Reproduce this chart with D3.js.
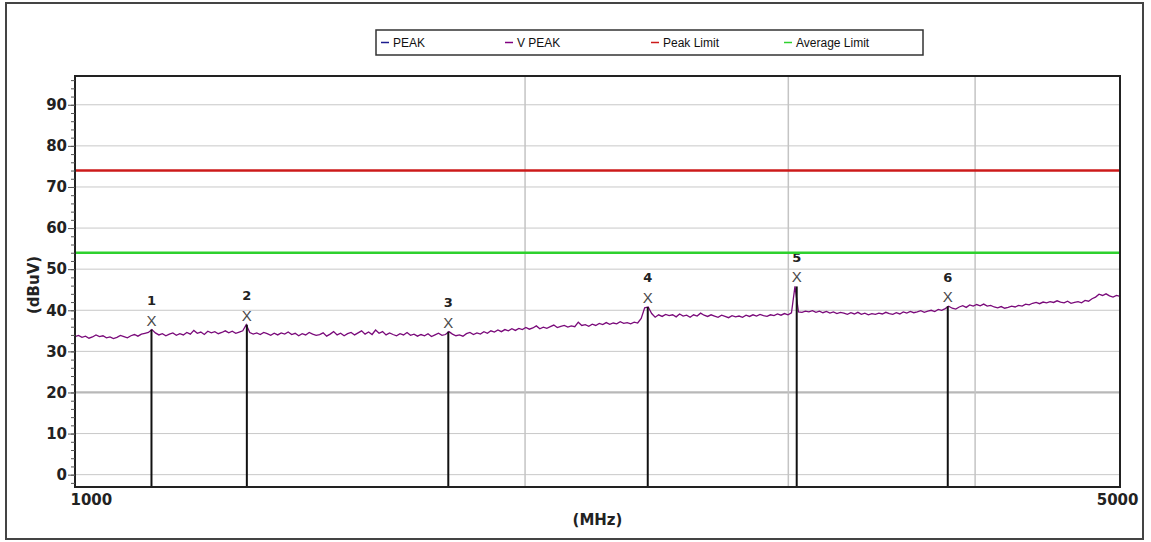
<!DOCTYPE html>
<html><head><meta charset="utf-8">
<script src="https://cdn.jsdelivr.net/npm/d3@7"></script>
<style>body{margin:0;background:#fff;} svg{display:block;}</style>
</head><body><svg id="chart" width="1151" height="542"></svg>
<script>
// ---------- data ----------
const legendNames = ["PEAK", "V PEAK", "Peak Limit", "Average Limit"];
const legendColors = ["#1c1c8f", "#800080", "#cc1a1a", "#2ed12e"];
const sweepStartMHz = 1000, sweepStopMHz = 5000;
// V PEAK trace (dBuV), sweep points from 1000 to 5000 MHz
const vPeakLevels = [
33.6,33.9,33.4,33.7,33.2,33.5,34.0,33.6,33.8,33.3,
33.5,33.1,33.4,33.9,33.6,33.3,33.8,34.1,33.7,34.2,
34.4,34.6,35.3,34.5,34.0,34.3,33.8,34.2,34.5,33.9,
34.3,34.0,34.6,34.2,35.1,34.4,34.7,34.1,34.9,34.5,
34.8,34.3,34.6,35.0,34.5,34.9,34.4,34.7,35.0,36.5,
34.6,34.2,34.5,34.1,34.6,34.3,33.9,34.4,34.0,34.5,
34.2,34.7,34.1,34.4,33.8,34.3,34.0,34.6,34.2,33.9,
34.1,34.5,33.7,34.2,34.8,34.0,34.4,33.8,34.3,34.6,
34.0,34.5,35.0,34.2,34.7,34.1,35.2,34.4,34.8,34.0,
34.5,34.1,33.8,34.3,34.0,34.6,33.9,34.2,33.7,34.1,
33.8,34.3,33.6,34.0,34.4,33.9,34.1,34.8,34.2,33.8,
34.0,33.7,34.3,34.6,34.1,34.5,34.2,34.8,34.4,35.0,
34.7,35.2,34.8,35.3,35.0,35.5,35.1,35.6,35.3,35.8,
35.4,35.7,36.2,35.5,35.9,35.6,36.0,36.4,35.8,36.1,
36.3,35.9,36.2,36.0,37.1,36.3,36.5,36.1,36.6,36.3,
36.8,36.5,37.0,36.6,36.9,36.7,37.2,36.8,37.0,36.7,
37.1,36.9,38.0,40.6,40.8,39.2,38.3,38.9,38.5,39.0,
38.7,38.9,38.4,39.1,38.6,38.8,38.3,38.9,38.6,39.3,
38.8,38.5,38.9,38.6,38.3,38.8,38.5,38.2,38.7,38.4,
38.6,38.3,38.8,38.5,38.9,38.6,39.0,38.7,38.5,38.9,
38.7,39.1,38.8,39.2,38.9,39.4,45.8,39.6,39.5,39.8,
39.6,39.9,39.5,39.8,39.4,39.7,39.3,39.6,39.2,39.5,
39.3,39.0,39.4,39.1,39.5,39.0,39.3,38.9,39.2,39.0,
39.3,39.1,39.5,39.2,39.0,39.4,39.1,39.6,39.3,39.7,
39.4,39.6,39.9,39.5,39.8,40.0,39.7,40.2,40.0,40.4,
41.0,40.5,40.3,40.8,41.1,40.7,41.3,41.0,41.4,41.1,
41.5,41.0,41.2,40.8,40.6,40.9,40.5,40.7,41.0,40.8,
41.2,41.0,41.5,41.3,41.7,41.9,41.6,42.0,41.8,42.1,
41.9,42.3,42.0,41.8,42.2,41.7,41.9,42.1,41.8,42.4,
42.2,42.8,43.2,43.9,43.6,44.0,43.5,43.2,43.6,43.4
];
const peakLimit = 74;
const averageLimit = 54;
const markerIds = [1, 2, 3, 4, 5, 6];
const markerFreqs = [1125, 1303, 1777, 2416, 3039, 3835];
const markerLevels = [35.3, 36.5, 34.8, 40.8, 45.8, 41.0];
const yMajorTicks = [0, 10, 20, 30, 40, 50, 60, 70, 80, 90];
const yMinorTicks = d3.range(-2, 97, 2);
const xTickLabels = [1000, 5000];
const xGridFreqs = [2000, 3000, 4000];
const yDomain = [-3, 97];

// ---------- layout ----------
const svg = d3.select("#chart");
const L = 75, R = 1120, T = 76, B = 487;
const x = d3.scaleLog().domain([sweepStartMHz, sweepStopMHz]).range([L, R]);
const y = d3.scaleLinear().domain(yDomain).range([B, T]);
const boldFont = "'DejaVu Sans', Verdana, sans-serif";

// outer frame
svg.append("rect").attr("x", 6).attr("y", 3).attr("width", 1137).attr("height", 536)
  .attr("fill", "#fff").attr("stroke", "#444").attr("stroke-width", 2);

// grid
const g = svg.append("g");
g.selectAll(".hg").data(yMajorTicks).join("line")
  .attr("x1", L).attr("x2", R).attr("y1", d => y(d)).attr("y2", d => y(d))
  .attr("stroke", d => d === 20 ? "#b8b8b8" : "#c8c8c8")
  .attr("stroke-width", d => d === 20 ? 2.2 : 1);
g.selectAll(".vg").data(xGridFreqs).join("line")
  .attr("x1", d => x(d)).attr("x2", d => x(d)).attr("y1", T).attr("y2", B)
  .attr("stroke", "#c4c4c4").attr("stroke-width", 1.5);

// trace
const n = vPeakLevels.length;
const tracePts = vPeakLevels.map((v, i) => [sweepStartMHz * Math.pow(sweepStopMHz / sweepStartMHz, i / (n - 1)), v]);
svg.append("path").datum(tracePts)
  .attr("d", d3.line().x(d => x(d[0])).y(d => y(d[1])))
  .attr("fill", "none").attr("stroke", "#7a0a7a").attr("stroke-width", 1.3);

// markers
const markers = markerIds.map((id, i) => ({id, f: markerFreqs[i], v: markerLevels[i]}));
const mg = svg.append("g");
mg.selectAll("line").data(markers).join("line")
  .attr("x1", d => x(d.f)).attr("x2", d => x(d.f))
  .attr("y1", y(yDomain[0])).attr("y2", d => y(d.v))
  .attr("stroke", "#111").attr("stroke-width", 2);
mg.selectAll(".mx").data(markers).join("text")
  .attr("x", d => x(d.f)).attr("y", d => y(d.v) - 9.5)
  .attr("text-anchor", "middle").attr("dominant-baseline", "central")
  .attr("font-family", "'Liberation Sans', Arial, sans-serif").attr("font-size", 15)
  .attr("fill", "#4a4a4a").text("X");
mg.selectAll(".ml").data(markers).join("text")
  .attr("x", d => x(d.f)).attr("y", d => y(d.v) - 29)
  .attr("text-anchor", "middle").attr("dominant-baseline", "central")
  .attr("font-family", boldFont).attr("font-weight", "bold").attr("font-size", 13)
  .attr("fill", "#222").text(d => d.id);

// limit lines
[[peakLimit, legendColors[2]], [averageLimit, legendColors[3]]].forEach(([v, c]) => {
  svg.append("line").attr("x1", L).attr("x2", R).attr("y1", y(v)).attr("y2", y(v))
    .attr("stroke", c).attr("stroke-width", 2.6);
});

// plot border
svg.append("rect").attr("x", L).attr("y", T).attr("width", R - L).attr("height", B - T)
  .attr("fill", "none").attr("stroke", "#222").attr("stroke-width", 2);

// y axis
const yMinor = svg.append("g").attr("transform", `translate(${L},0)`)
  .call(d3.axisLeft(y).tickValues(yMinorTicks).tickSize(4).tickFormat(""));
const yAx = svg.append("g").attr("transform", `translate(${L},0)`)
  .call(d3.axisLeft(y).tickValues(yMajorTicks).tickSize(7).tickPadding(1));
[yMinor, yAx].forEach(a => { a.select(".domain").remove(); a.selectAll("line").attr("stroke", "#555"); });
yAx.selectAll("text").attr("font-family", boldFont).attr("font-weight", "bold")
  .attr("font-size", 15).attr("fill", "#222");

// x axis labels
const xAx = svg.append("g").attr("transform", `translate(0,${B})`)
  .call(d3.axisBottom(x).tickValues(xTickLabels).tickSize(0).tickPadding(7).tickFormat(d3.format("d")));
xAx.select(".domain").remove();
xAx.selectAll("text").attr("font-family", boldFont).attr("font-weight", "bold")
  .attr("font-size", 15).attr("fill", "#222")
  .attr("text-anchor", (d, i) => i === 0 ? "start" : "end")
  .attr("dx", (d, i) => i === 0 ? -5 : 18);

// axis titles
svg.append("text").attr("x", (L + R) / 2).attr("y", 525).attr("text-anchor", "middle")
  .attr("font-family", boldFont).attr("font-weight", "bold").attr("font-size", 15)
  .attr("fill", "#222").text("(MHz)");
svg.append("text").attr("transform", "translate(39,285) rotate(-90)").attr("text-anchor", "middle")
  .attr("font-family", boldFont).attr("font-weight", "bold").attr("font-size", 15)
  .attr("fill", "#222").text("(dBuV)");

// legend
const lg = svg.append("g");
lg.append("rect").attr("x", 376).attr("y", 30).attr("width", 547).attr("height", 25)
  .attr("fill", "#fff").attr("stroke", "#333").attr("stroke-width", 1.5);
const legendX = [381, 505, 651, 784];
legendNames.forEach((name, i) => {
  lg.append("line").attr("x1", legendX[i]).attr("x2", legendX[i] + 8)
    .attr("y1", 42.5).attr("y2", 42.5).attr("stroke", legendColors[i]).attr("stroke-width", 1.5);
  lg.append("text").attr("x", legendX[i] + 12).attr("y", 47)
    .attr("font-family", "'Liberation Sans', Arial, sans-serif").attr("font-size", 12)
    .attr("fill", "#111").text(name);
});
</script></body></html>
